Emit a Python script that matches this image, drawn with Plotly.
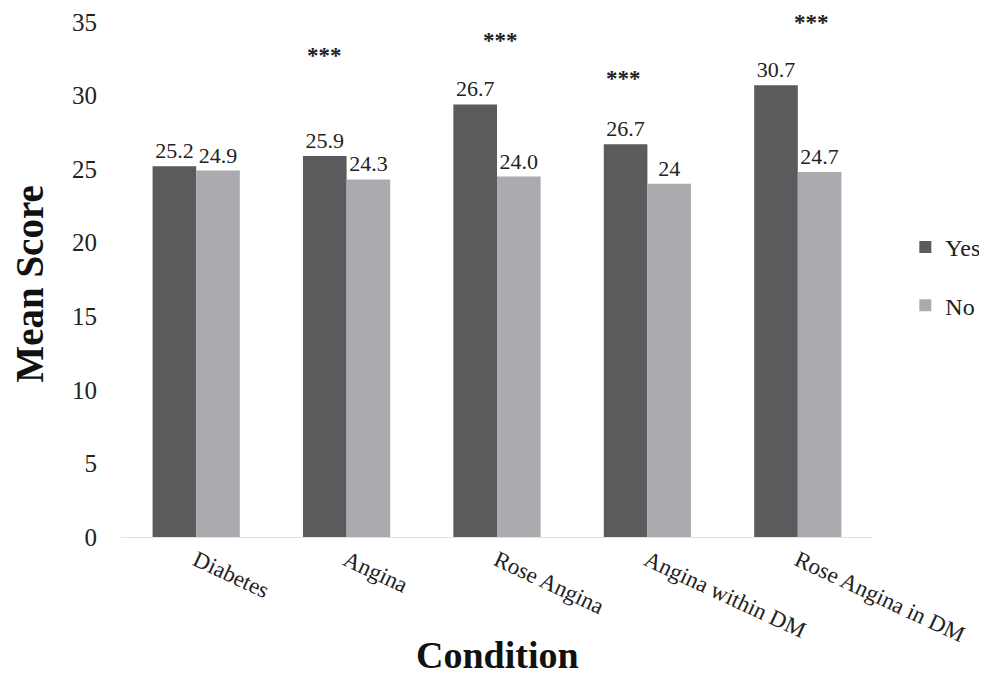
import plotly.graph_objects as go

categories = ["Diabetes", "Angina", "Rose Angina", "Angina within DM", "Rose Angina in DM"]
yes_values = [25.2, 25.9, 29.4, 26.7, 30.7]
no_values = [24.9, 24.3, 24.5, 24.0, 24.8]
yes_labels = ["25.2", "25.9", "26.7", "26.7", "30.7"]
no_labels = ["24.9", "24.3", "24.0", "24", "24.7"]
sig_marks = ["", "***", "***", "***", "***"]
y_ticks = [0, 5, 10, 15, 20, 25, 30, 35]

# annotation placement for significance marks (style, not data)
Y_MAX = 35
sig_y = [0, 32.75, 33.75, 31.15, 35.3]
sig_dx = [0, -22, 3, -24, 14]
TOP_PAPER = 1 + 14 / 515  # top edge of the figure in paper units

FONT = "Liberation Serif"
YES_C = "#5b5b5e"
NO_C = "#aaabae"

fig = go.Figure()
fig.add_trace(go.Bar(x=categories, y=yes_values, name="Yes", marker_color=YES_C,
                     marker_line_width=0, text=yes_labels, textposition="outside",
                     textfont=dict(family=FONT, size=22, color="#222"),
                     constraintext="none", cliponaxis=False, legendgroup="a"))
fig.add_trace(go.Bar(x=categories, y=no_values, name="No", marker_color=NO_C,
                     marker_line_width=0, text=no_labels, textposition="outside",
                     textfont=dict(family=FONT, size=22, color="#222"),
                     constraintext="none", cliponaxis=False, legendgroup="b"))

for c, m, yy, dx in zip(categories, sig_marks, sig_y, sig_dx):
    if m:
        if yy / Y_MAX > 1:
            ypos, anchor = TOP_PAPER, "top"
        else:
            ypos, anchor = yy / Y_MAX, "middle"
        fig.add_annotation(x=c, y=ypos, xref="x", yref="paper", text="<b>" + m + "</b>",
                           showarrow=False, xshift=dx, yanchor=anchor,
                           font=dict(family=FONT, size=23, color="#222"))

fig.add_annotation(x=0.5, y=-0.229, xref="paper", yref="paper", text="<b>Condition</b>",
                   showarrow=False, yanchor="middle",
                   font=dict(family=FONT, size=38, color="#111"))
fig.add_annotation(x=-0.121, y=0.49, xref="paper", yref="paper", text="<b>Mean Score</b>",
                   showarrow=False, textangle=-90, xanchor="center",
                   font=dict(family=FONT, size=39, color="#111"))

# the page body adds an 8px margin, so the figure is 8px smaller on each axis
fig.update_layout(
    width=979, height=667,
    margin=dict(l=113, r=114, t=14, b=138, autoexpand=False),
    paper_bgcolor="white", plot_bgcolor="white",
    barmode="group", bargap=0.42, bargroupgap=0,
    font=dict(family=FONT, color="#222"),
    showlegend=True,
    legend=dict(x=1.043, y=0.506, xanchor="left", yanchor="middle",
                font=dict(family=FONT, size=24, color="#222"),
                tracegroupgap=24, traceorder="grouped", itemwidth=30),
    xaxis=dict(showgrid=False, showline=True, linecolor="#e2e2e2", linewidth=1,
               tickangle=25, tickfont=dict(family=FONT, size=23, color="#222"),
               ticks="", automargin=False),
    yaxis=dict(range=[0, Y_MAX], tickvals=y_ticks, showgrid=False, showline=False,
               zeroline=False, tickfont=dict(family=FONT, size=25, color="#222"),
               ticklabelstandoff=23, automargin=False),
)

fig.write_html("out.html")
